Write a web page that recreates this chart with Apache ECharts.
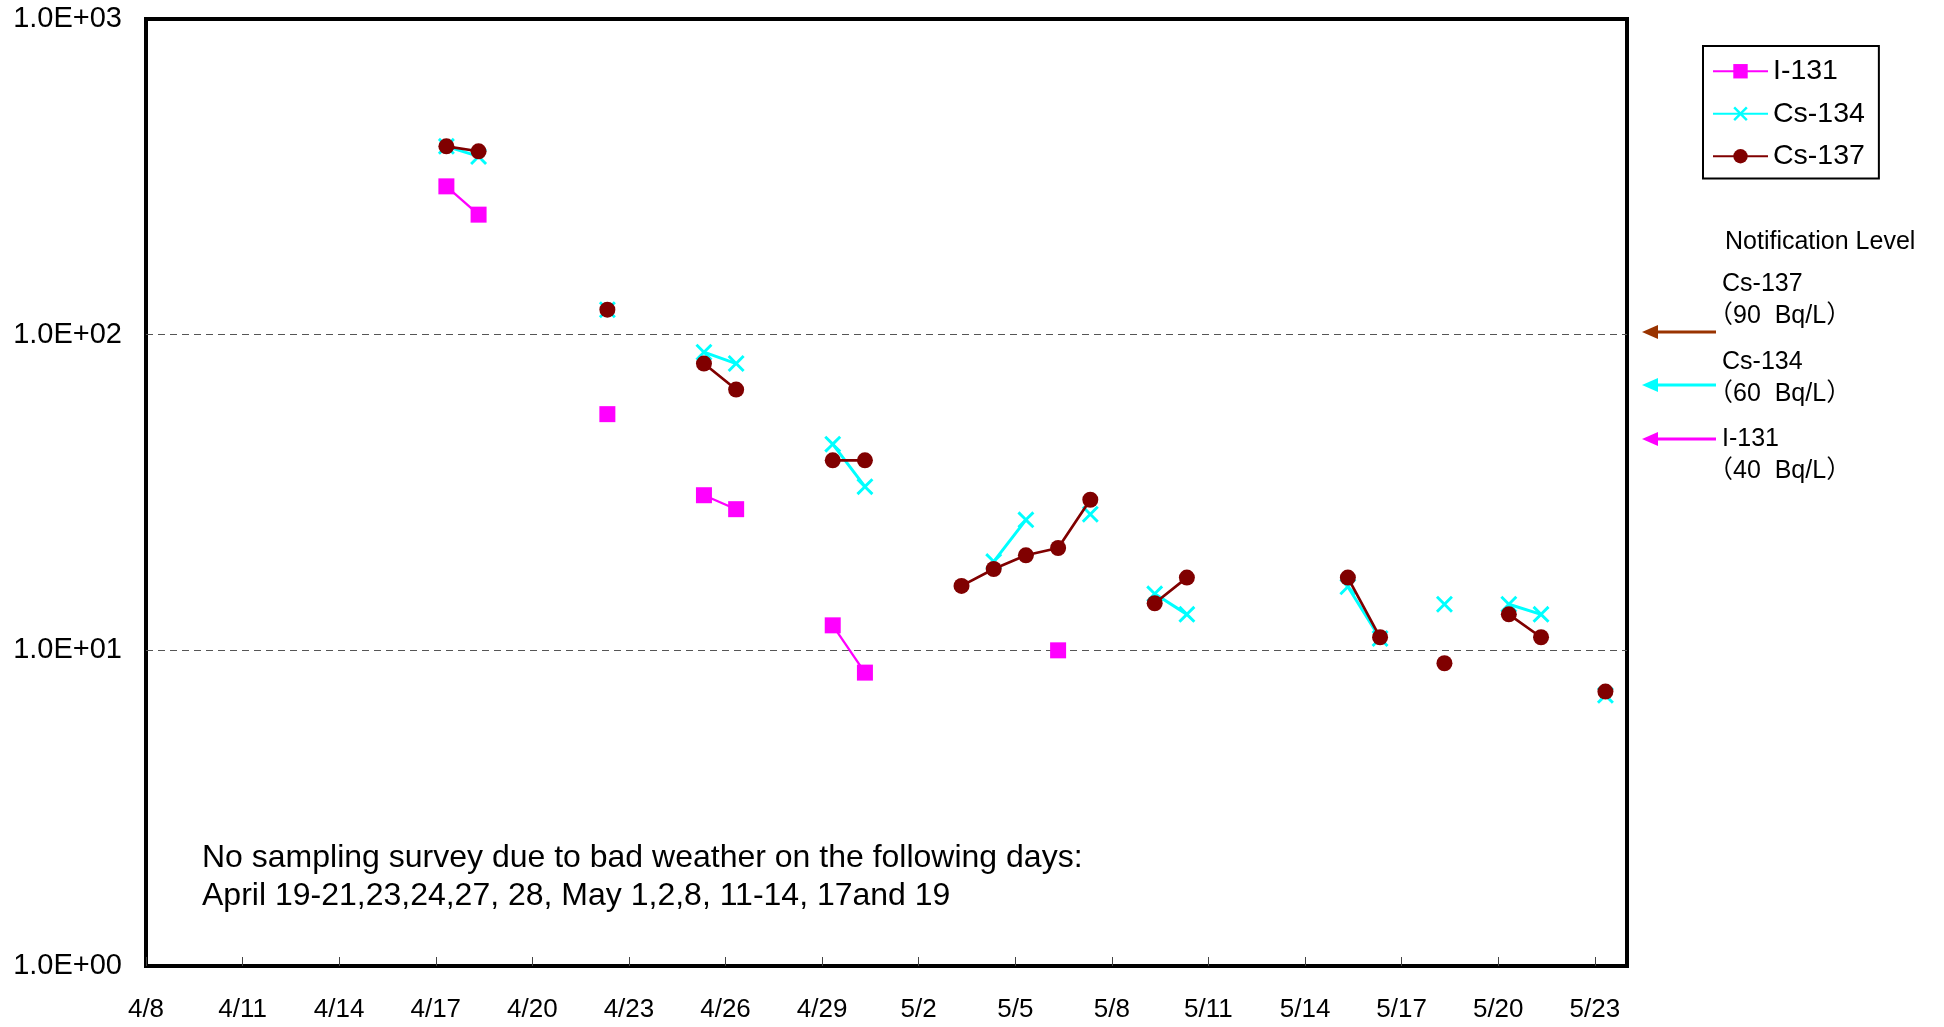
<!DOCTYPE html>
<html>
<head>
<meta charset="utf-8">
<script src="https://cdn.jsdelivr.net/npm/echarts@6/dist/echarts.min.js"></script>
<style>
  html, body { margin: 0; padding: 0; background: #fff; }
  #chart { width: 1944px; height: 1027px; }
</style>
</head>
<body>
<div id="chart"></div>
<script>
// ---------------- DATA ----------------
const dates = ['4/17','4/18','4/19','4/20','4/21','4/22','4/23','4/24','4/25','4/26','4/27','4/28','4/29','4/30',
               '5/1','5/2','5/3','5/4','5/5','5/6','5/7','5/8','5/9','5/10','5/11','5/12','5/13','5/14',
               '5/15','5/16','5/17','5/18','5/19','5/20','5/21','5/22','5/23'];
const i131  = [295, 240, null, null, null, 56, null, null, 31, 28, null, null, 12, 8.5,
               null, null, null, null, null, 10, null, null, null, null, null, null, null, null,
               null, null, null, null, null, null, null, null, null];
const cs134 = [395, 367, null, null, null, 120, null, null, 88, 81, null, null, 45, 33,
               null, null, null, 19.1, 25.9, null, 27, null, 15.1, 13, null, null, null, null,
               15.9, 10.9, null, 14, null, 14, 13, null, 7.2];
const cs137 = [395, 381, null, null, null, 120, null, null, 81, 67, null, null, 40, 40,
               null, null, 16, 18.1, 20, 21.1, 30, null, 14.1, 17, null, null, null, null,
               17, 11, null, 9.1, null, 13, 11, null, 7.4];
const xTickLabels = ['4/8','4/11','4/14','4/17','4/20','4/23','4/26','4/29','5/2','5/5','5/8','5/11','5/14','5/17','5/20','5/23'];
const yTickLabels = ['1.0E+00','1.0E+01','1.0E+02','1.0E+03'];
const axisStart = '4/8';     // first day on the time axis
const axisDays = 46;         // axis spans 4/8 00:00 .. 5/24 00:00
const sampleTime = 0.33;     // samples taken in the morning (~8:00)
const seriesNames = ['I-131', 'Cs-134', 'Cs-137'];
const levelNames = ['Cs-137', 'Cs-134', 'I-131'];
const levelValues = [90, 60, 40];
const noteLines = ['No sampling survey due to bad weather on the following days:',
                   'April 19-21,23,24,27, 28, May 1,2,8, 11-14, 17and 19'];

// ---------------- HELPERS ----------------
function dayIndex(md) {
  const [m, d] = md.split('/').map(Number);
  const [m0, d0] = axisStart.split('/').map(Number);
  return (Date.UTC(2011, m - 1, d) - Date.UTC(2011, m0 - 1, d0)) / 86400000;
}
function toXY(vals) {
  return dates.map((d, i) => [dayIndex(d) + sampleTime, vals[i] == null ? '-' : vals[i]]);
}

const FONT = '"Liberation Sans", Arial, "Noto Sans CJK JP", sans-serif';
const xSymbol = 'path://M0,1.2 L1.2,0 L5,3.8 L8.8,0 L10,1.2 L6.2,5 L10,8.8 L8.8,10 L5,6.2 L1.2,10 L0,8.8 L3.8,5 Z';
const colors = ['#FF00FF', '#00FFFF', '#800000'];
const arrowColors = ['#993300', '#00FFFF', '#FF00FF'];

// annotation graphics (outside the plotting area)
const graphics = [];
function txt(x, y, text, size) {
  return { type: 'text', x: x, y: y, style: { text: text, font: size + 'px ' + FONT, fill: '#000', verticalAlign: 'middle' } };
}
graphics.push(txt(1725, 242, 'Notification Level', 25));
const nameY = [284, 362, 439];
const arrowY = [332, 385, 439];
for (let k = 0; k < 3; k++) {
  graphics.push(txt(1722, nameY[k], levelNames[k], 25));
  graphics.push(txt(1708, nameY[k] + 32, '（' + levelValues[k] + '  Bq/L）', 25));
  graphics.push({ type: 'line', shape: { x1: 1655, y1: arrowY[k], x2: 1716, y2: arrowY[k] }, style: { stroke: arrowColors[k], lineWidth: 3 } });
  graphics.push({ type: 'polygon', shape: { points: [[1642, arrowY[k]], [1658, arrowY[k] - 7], [1658, arrowY[k] + 7]] }, style: { fill: arrowColors[k] } });
}
graphics.push(txt(202, 858, noteLines[0], 32));
graphics.push(txt(202, 896, noteLines[1], 32));

const chart = echarts.init(document.getElementById('chart'), null, { renderer: 'canvas' });
chart.setOption({
  animation: false,
  backgroundColor: '#fff',
  textStyle: { fontFamily: FONT },
  grid: { left: 146, right: 317, top: 19, bottom: 61, show: true, borderColor: '#000', borderWidth: 4, backgroundColor: 'transparent' },
  legend: {
    orient: 'vertical', left: 1703, top: 46,
    data: seriesNames,
    borderColor: '#000', borderWidth: 2, padding: [11, 14, 8, 9],
    itemWidth: 55, itemHeight: 18, itemGap: 14,
    textStyle: { fontSize: 28.5, color: '#000', fontFamily: FONT }
  },
  xAxis: {
    type: 'value', min: 0, max: axisDays, interval: 3,
    axisLine: { show: false },
    axisTick: { show: true, inside: true, length: 9, lineStyle: { color: '#444', width: 1 } },
    splitLine: { show: false },
    axisLabel: {
      margin: 31, fontSize: 26, color: '#000', fontFamily: FONT,
      showMaxLabel: false,
      formatter: v => (v % 3 === 0 && v / 3 < xTickLabels.length) ? xTickLabels[v / 3] : ''
    }
  },
  yAxis: {
    type: 'log', logBase: 10, min: 1, max: 1000,
    axisLine: { show: false },
    axisTick: { show: false },
    splitLine: { show: true, showMinLine: false, showMaxLine: false, lineStyle: { color: '#555', width: 1, type: [7, 5] } },
    axisLabel: {
      margin: 24, fontSize: 29, color: '#000', fontFamily: FONT,
      formatter: v => yTickLabels[Math.round(Math.log10(v))]
    }
  },
  graphic: graphics,
  series: [
    { name: seriesNames[0], type: 'line', data: toXY(i131), connectNulls: false, showSymbol: true,
      symbol: 'rect', symbolSize: 16, itemStyle: { color: colors[0] }, lineStyle: { color: colors[0], width: 2.3 }, z: 2 },
    { name: seriesNames[1], type: 'line', data: toXY(cs134), connectNulls: false, showSymbol: true,
      symbol: xSymbol, symbolSize: 17, itemStyle: { color: colors[1] }, lineStyle: { color: colors[1], width: 3 }, z: 3 },
    { name: seriesNames[2], type: 'line', data: toXY(cs137), connectNulls: false, showSymbol: true,
      symbol: 'circle', symbolSize: 16, itemStyle: { color: colors[2] }, lineStyle: { color: colors[2], width: 2.7 }, z: 4 }
  ]
});
</script>
</body>
</html>
